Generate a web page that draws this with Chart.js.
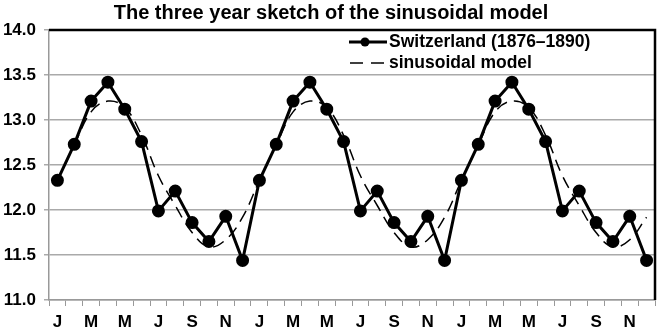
<!DOCTYPE html>
<html>
<head>
<meta charset="utf-8">
<script src="https://cdn.jsdelivr.net/npm/chart.js@4/dist/chart.umd.min.js"></script>
<style>
  body { margin: 0; background: #fff; }
  #wrap { position: relative; width: 663px; height: 330px; }
  #legend { position: absolute; left: 349px; top: 31px; font: bold 17.5px "Liberation Sans", Arial, sans-serif; color: #000; }
  #legend div { height: 21px; display: flex; align-items: center; }
  #legend svg { margin-right: 2px; }
</style>
</head>
<body>
<div id="wrap">
  <canvas id="chart" width="663" height="330"></canvas>
  <div id="legend">
    <div><svg width="38" height="12"><line x1="0" y1="6" x2="38" y2="6" stroke="#000" stroke-width="3"/><circle cx="16" cy="6" r="4.5" fill="#000"/></svg>Switzerland (1876–1890)</div>
    <div><svg width="38" height="12"><line x1="1" y1="6" x2="37" y2="6" stroke="#000" stroke-width="1.6" stroke-dasharray="13,8"/></svg>sinusoidal model</div>
  </div>
</div>
<script>
// one year of monthly values, repeated for the three-year sketch
const months = ['J', 'F', 'M', 'A', 'M', 'J', 'J', 'A', 'S', 'O', 'N', 'D'];
const swissYear = [12.33, 12.73, 13.21, 13.42, 13.12, 12.76, 11.99, 12.21, 11.86, 11.65, 11.93, 11.44];
const modelYear = [12.33, 12.72, 13.09, 13.21, 13.14, 12.83, 12.38, 12.05, 11.75, 11.59, 11.67, 11.92];
const years = 3;

const labels = [];
const swiss = [];
const model = [];
for (let y = 0; y < years; y++) {
    labels.push(...months);
    swiss.push(...swissYear);
    model.push(...modelYear);
}

// thick black top and right border of the plot area
const frame = {
    id: 'frame',
    afterDraw(chart) {
        const a = chart.chartArea;
        const ctx = chart.ctx;
        ctx.save();
        ctx.strokeStyle = '#000';
        ctx.lineWidth = 2.5;
        ctx.beginPath();
        ctx.moveTo(a.left, a.top);
        ctx.lineTo(a.right, a.top);
        ctx.lineTo(a.right, a.bottom);
        ctx.stroke();
        ctx.restore();
    }
};

const font = { family: '"Liberation Sans", Arial, sans-serif', weight: 'bold', size: 17 };

new Chart(document.getElementById('chart'), {
    type: 'line',
    data: {
        labels: labels,
        datasets: [{
            label: 'Switzerland (1876–1890)',
            data: swiss,
            borderColor: '#000',
            backgroundColor: '#000',
            borderWidth: 3,
            pointRadius: 5,
            pointHoverRadius: 5,
            tension: 0
        }, {
            label: 'sinusoidal model',
            data: model,
            borderColor: '#000',
            borderWidth: 1.5,
            borderDash: [12, 7],
            pointRadius: 0,
            tension: 0.4
        }]
    },
    options: {
        responsive: false,
        animation: false,
        layout: { padding: { right: 1, left: 0, top: 0, bottom: 0 } },
        plugins: {
            legend: { display: false },
            tooltip: { enabled: false },
            title: {
                display: true,
                text: 'The three year sketch of the sinusoidal model',
                color: '#000',
                font: { family: '"Liberation Sans", Arial, sans-serif', weight: 'bold', size: 20 },
                padding: { top: 1, bottom: 5 }
            }
        },
        scales: {
            x: {
                offset: true,
                afterFit(axis) { axis.height = 30; },
                grid: { drawOnChartArea: false, offset: true, tickLength: 6, color: '#999' },
                border: { color: '#999', width: 1.5 },
                ticks: {
                    autoSkip: false,
                    maxRotation: 0,
                    color: '#000',
                    font: font,
                    padding: 6,
                    callback: (v, i) => i % 2 === 0 ? labels[i] : ''
                }
            },
            y: {
                min: 11,
                max: 14,
                afterFit(axis) { axis.width = 49; },
                grid: { color: '#aaa', lineWidth: 1.5, tickLength: 5 },
                border: { color: '#999', width: 1.5 },
                ticks: {
                    stepSize: 0.5,
                    color: '#000',
                    font: font,
                    padding: 8,
                    callback: v => v.toFixed(1)
                }
            }
        }
    },
    plugins: [frame]
});
</script>
</body>
</html>
